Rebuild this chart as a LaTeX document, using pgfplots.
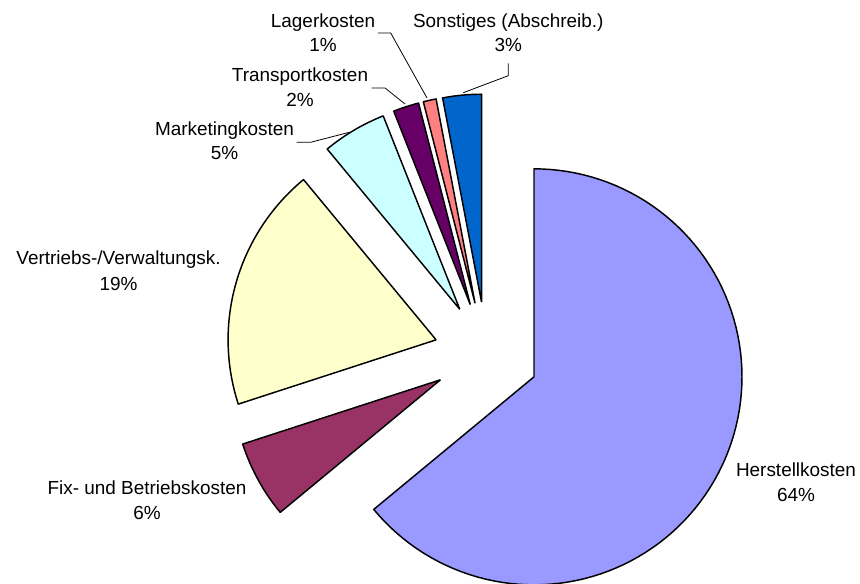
\documentclass[border=0pt]{standalone}
\usepackage{fontspec}
\setmainfont{Liberation Sans}
\usepackage{pgfplots}
\pgfplotsset{compat=1.18}
\definecolor{hk}{HTML}{9999FF}
\definecolor{fix}{HTML}{993366}
\definecolor{vert}{HTML}{FFFFCC}
\definecolor{mark}{HTML}{CCFFFF}
\definecolor{trans}{HTML}{660066}
\definecolor{lager}{HTML}{FF8080}
\definecolor{sonst}{HTML}{0066CC}
% slice: colour, start percent, end percent (clockwise from 12 o'clock), exploded
\newcommand{\slice}[3]{%
 \addplot[draw=black, line width=1.1pt, line join=round, fill=#1, variable=\t,
   samples at={-1,0,1,...,100,101}]
 ({486.5 + 52.5*cos(90-1.8*(#2+#3)) + ((\t<0 || \t>100) ? 0 : 208)*cos(90-3.6*(#2+(#3-#2)*\t/100))},
  {229.5 + 52.5*sin(90-1.8*(#2+#3)) + ((\t<0 || \t>100) ? 0 : 208)*sin(90-3.6*(#2+(#3-#2)*\t/100))});
}
\newcommand{\lf}{\fontsize{14.2}{17}\selectfont}
\begin{document}
\begin{tikzpicture}
\useasboundingbox (0,0) rectangle (645pt,438pt);
\begin{axis}[hide axis, scale only axis, width=645pt, height=438pt,
  xmin=0, xmax=860, ymin=0, ymax=584, clip=true]
% values: Herstellkosten 64, Fix- und Betriebskosten 6, Vertriebs-/Verwaltungsk. 19,
% Marketingkosten 5, Transportkosten 2, Lagerkosten 1, Sonstiges 3
\slice{hk}{0}{64}
\slice{fix}{64}{70}
\slice{vert}{70}{89}
\slice{mark}{89}{94}
\slice{trans}{94}{96}
\slice{lager}{96}{97}
\slice{sonst}{97}{100}
% leader lines
\addplot[black, line width=0.6pt] coordinates {(508.3,520.7) (508.3,508.3) (463.3,491.3)};
\addplot[black, line width=0.6pt] coordinates {(378,551) (390.7,551) (427,486)};
\addplot[black, line width=0.6pt] coordinates {(371.7,496) (385,496) (405,480)};
\addplot[black, line width=0.6pt] coordinates {(296.7,441.7) (310.7,441.7) (349.3,451.7)};
% labels
\node[anchor=base, font=\lf] at (axis cs:796,107) {Herstellkosten};
\node[anchor=base, font=\lf] at (axis cs:796,82) {64\%};
\node[anchor=base, font=\lf] at (axis cs:147,89) {Fix- und Betriebskosten};
\node[anchor=base, font=\lf] at (axis cs:147,64) {6\%};
\node[anchor=base, font=\lf] at (axis cs:118.5,319) {Vertriebs-/Verwaltungsk.};
\node[anchor=base, font=\lf] at (axis cs:118.5,293) {19\%};
\node[anchor=base, font=\lf] at (axis cs:224.5,448) {Marketingkosten};
\node[anchor=base, font=\lf] at (axis cs:224.5,424) {5\%};
\node[anchor=base, font=\lf] at (axis cs:300,502) {Transportkosten};
\node[anchor=base, font=\lf] at (axis cs:300,477) {2\%};
\node[anchor=base, font=\lf] at (axis cs:323,556) {Lagerkosten};
\node[anchor=base, font=\lf] at (axis cs:323,532) {1\%};
\node[anchor=base, font=\lf] at (axis cs:508.3,556) {Sonstiges (Abschreib.)};
\node[anchor=base, font=\lf] at (axis cs:508.3,532) {3\%};
\end{axis}
\end{tikzpicture}
\end{document}
